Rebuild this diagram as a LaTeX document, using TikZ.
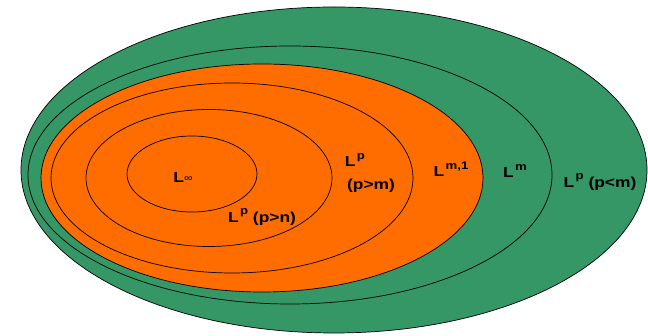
\documentclass[tikz,border=0pt]{standalone}
\usepackage{fontspec}
\setmainfont{Liberation Sans}
\definecolor{setgreen}{RGB}{53,150,102}
\definecolor{setorange}{RGB}{255,108,0}
\tikzset{
  ring/.style={draw=black, line width=0.7pt},
  lbl/.style={font=\bfseries\fontsize{14.5}{16}\selectfont, inner sep=0pt, text=black},
}
\newcommand{\sups}[1]{\kern0.08em\raisebox{0.5em}{\fontsize{11}{12}\selectfont #1}}
\newcommand{\wide}[1]{\scalebox{1.2}[1]{#1}}
\begin{document}
\begin{tikzpicture}[x=1pt,y=1pt]
\useasboundingbox (0,0) rectangle (648,336);
% outer L^p (p<m)
\draw[ring, fill=setgreen] (334,166) ellipse [x radius=313, y radius=163];
% L^m
\draw[ring, fill=setgreen] (290,161) ellipse [x radius=262, y radius=129];
% L^{m,1}
\draw[ring, fill=setorange] (262,158) ellipse [x radius=221, y radius=114];
% L^p (p>m)
\draw[ring] (232,158) ellipse [x radius=181, y radius=95];
% L^p (p>n)
\draw[ring] (209,158) ellipse [x radius=123, y radius=68.5];
% L^infty
\draw[ring] (192,162) ellipse [x radius=65, y radius=38];
\node[lbl] (linf) at (183,158) {\wide{L\raisebox{0.12em}{\fontsize{10}{11}\selectfont\mdseries ∞}}};
\node[lbl] (lpn) at (262,119) {\wide{L\sups{p}\ (p>n)}};
\node[lbl] (lpm1) at (355,176) {\wide{L\sups{p}}};
\node[lbl] (lpm2) at (371,150) {\wide{(p>m)}};
\node[lbl] (lm1) at (451,167) {\wide{L\sups{m,1}}};
\node[lbl] (lm) at (515,165) {\wide{L\sups{m}}};
\node[lbl] (lpl) at (600,154) {\wide{L\sups{p}\ (p<m)}};
\end{tikzpicture}
\end{document}
